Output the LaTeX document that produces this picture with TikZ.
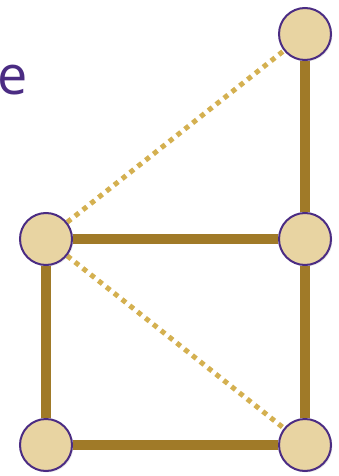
\documentclass[tikz,border=0pt]{standalone}
\usepackage{fontspec}
\setmainfont{Open Sans}
\usepackage{xcolor}
\usepackage{tikz}
\usetikzlibrary{shadows, backgrounds}

\definecolor{vfill}{HTML}{E8D4A2}
\definecolor{vline}{HTML}{4B2C83}
\definecolor{edgecol}{HTML}{A07A28}
\definecolor{dotcol}{HTML}{D4B050}

\begin{document}
\begin{tikzpicture}[
  x=1pt, y=-1pt,
  vertex/.style={circle, draw=vline, line width=2pt, fill=vfill, minimum size=52pt, inner sep=0pt,
    drop shadow={opacity=0.15, shadow xshift=1.5pt, shadow yshift=-1.5pt}},
  tree/.style={line width=10pt, draw=edgecol},
  extra/.style={line width=5pt, draw=dotcol, dash pattern=on 5pt off 5pt}
]
  \useasboundingbox (0,0) rectangle (338,476);

  \node[anchor=base west, text=vline, font=\fontsize{54}{60}\selectfont, inner sep=0pt] (lbl) at (-3,95) {e};

  \node[vertex] (tr) at (305,34) {};
  \node[vertex] (ml) at (46,239) {};
  \node[vertex] (mr) at (305,239) {};
  \node[vertex] (bl) at (46,445) {};
  \node[vertex] (br) at (305,445) {};

  \begin{scope}[on background layer]
    \draw[tree] (tr) -- (mr);
    \draw[tree] (ml) -- (mr);
    \draw[tree] (ml) -- (bl);
    \draw[tree] (mr) -- (br);
    \draw[tree] (bl) -- (br);
    \draw[extra] (ml) -- (tr);
    \draw[extra] (ml) -- (br);
  \end{scope}
\end{tikzpicture}
\end{document}
